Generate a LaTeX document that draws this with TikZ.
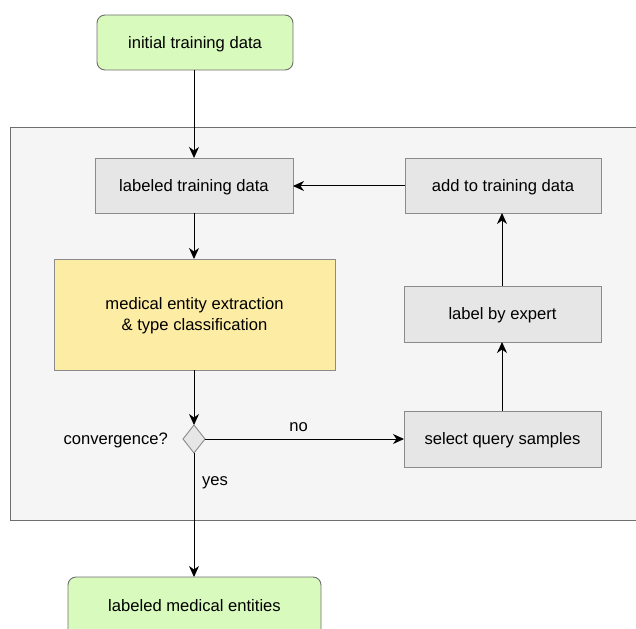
\documentclass[tikz,border=0pt]{standalone}
\usepackage{fontspec}
\setmainfont{Liberation Sans}
\usetikzlibrary{arrows.meta,shapes.geometric}
\definecolor{greenfill}{RGB}{216,250,188}
\definecolor{yellowfill}{RGB}{253,236,163}
\definecolor{boxfill}{RGB}{230,230,230}
\definecolor{panelfill}{RGB}{245,245,245}
\definecolor{edgegray}{RGB}{110,110,110}
\begin{document}
\begin{tikzpicture}[x=1pt,y=-1pt,
  every node/.style={font=\fontsize{16.6}{21}\selectfont},
  terminal/.style={draw=edgegray,fill=greenfill,rounded corners=8pt,line width=0.9pt},
  procbox/.style={draw=edgegray!80,fill=boxfill,line width=0.9pt},
  mainbox/.style={draw=edgegray!80,fill=yellowfill,line width=0.9pt},
  decision/.style={draw=edgegray!80,fill=boxfill,line width=0.9pt},
  flow/.style={line width=1pt,-{Stealth[length=11pt,width=10pt,inset=3.5pt]}},
  caption/.style={inner sep=0pt}]
\useasboundingbox (0,0) rectangle (636,628);
% background panel of the active-learning loop
\path[draw=edgegray,fill=panelfill,line width=0.9pt] (10,127) rectangle (640,520);
% boxes
\path[terminal] (97,15) rectangle (293,70);
\node[caption] (init) at (195,44) {initial training data};
\coordinate (initS) at (194,70);
\path[procbox] (95,158) rectangle (293,213);
\node[caption] (labeled) at (194,187) {labeled training data};
\coordinate (labN) at (194,158); \coordinate (labS) at (194,213); \coordinate (labE) at (293,186);
\path[procbox] (405,158) rectangle (601,213);
\node[caption] (add) at (503,187) {add to training data};
\coordinate (addW) at (405,186); \coordinate (addS) at (502,213);
\path[mainbox] (54,259) rectangle (335,370);
\node[caption,align=center] (extract) at (194.5,316) {medical entity extraction\\ \& type classification};
\coordinate (extN) at (194,259); \coordinate (extS) at (194,370);
\path[procbox] (404,286) rectangle (601,342);
\node[caption] (expert) at (502.5,315.5) {label by expert};
\coordinate (expN) at (502,286); \coordinate (expS) at (502,342);
\path[procbox] (404,411) rectangle (601,467);
\node[caption] (select) at (502.5,440.5) {select query samples};
\coordinate (selW) at (404,439); \coordinate (selN) at (502,411);
\path[decision] (194,425) -- (205,439) -- (194,453) -- (183,439) -- cycle;
\coordinate (decN) at (194,425); \coordinate (decE) at (205,439); \coordinate (decS) at (194,453);
\node[caption,anchor=east] (conv) at (168,440.5) {convergence?};
\path[terminal] (68,577) rectangle (321,660);
\node[caption] (result) at (194.5,605.5) {labeled medical entities};
\coordinate (resN) at (194,577);
% connectors
\draw[flow] (initS) -- (labN);
\draw[flow] (labS) -- (extN);
\draw[flow] (extS) -- (decN);
\draw[flow] (decE) -- node[caption,above=7pt,pos=0.47] (no) {no} (selW);
\draw[flow] (selN) -- (expS);
\draw[flow] (expN) -- (addS);
\draw[flow] (addW) -- (labE);
\draw[flow] (decS) -- (resN);
\node[caption] (yes) at (215,483) {yes};
\end{tikzpicture}
\end{document}
